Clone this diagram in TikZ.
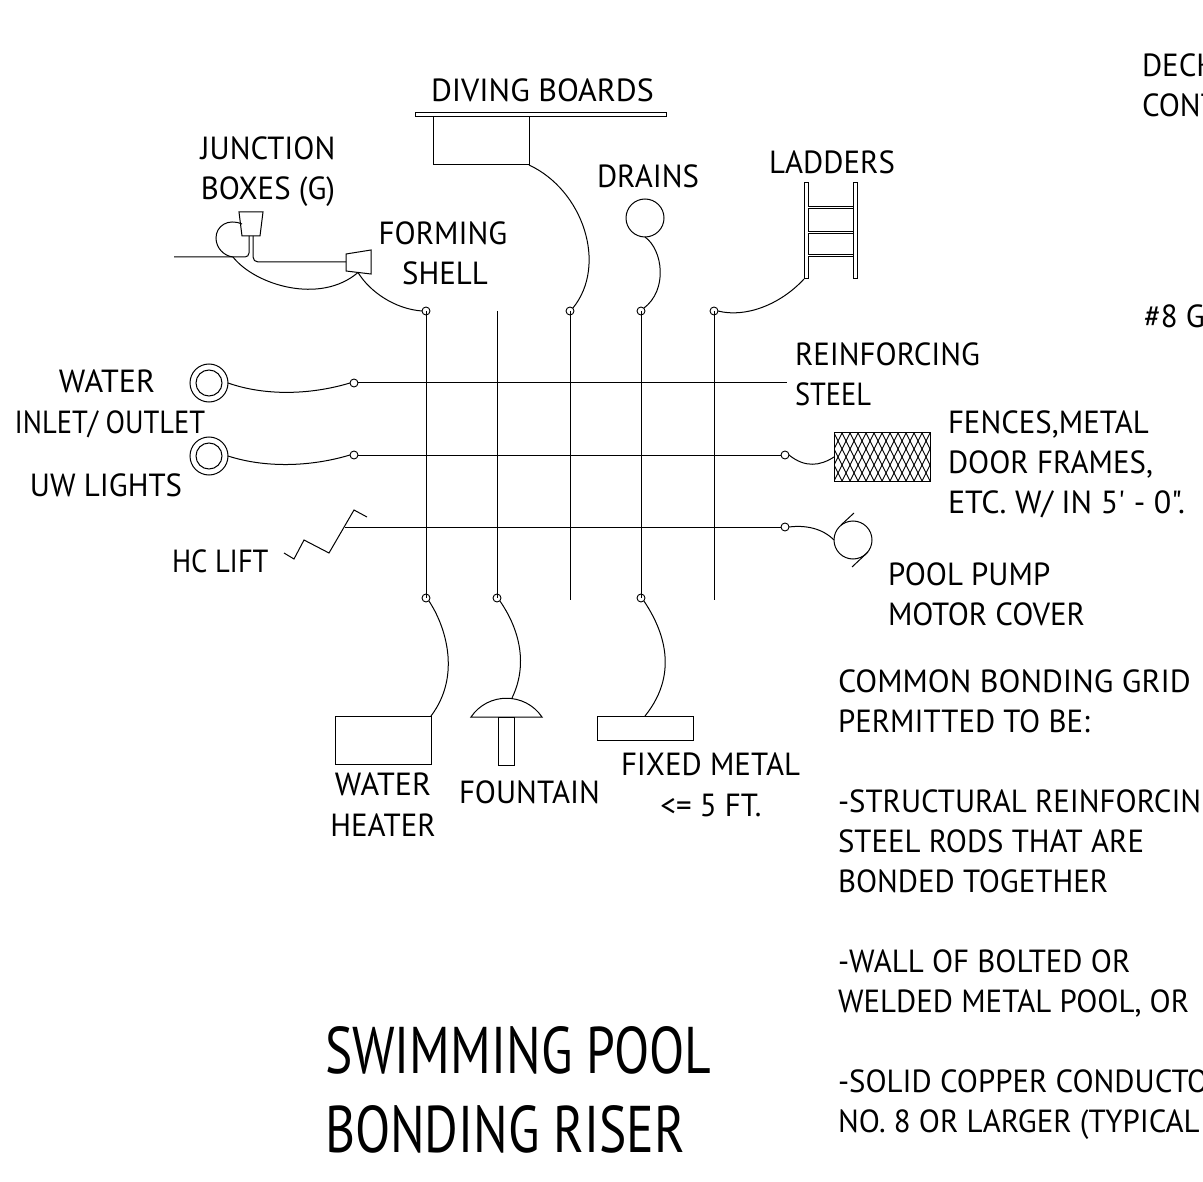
\documentclass[tikz,border=0pt]{standalone}
\usepackage{fontspec}
\newfontfamily\dwg[FakeStretch=0.965]{PT Sans}
\newfontfamily\dwgwide[FakeStretch=1.0]{PT Sans}
\newfontfamily\dwgnarrow[FakeStretch=0.89]{PT Sans}
\newfontfamily\dwgtitle[FakeStretch=0.78]{PT Sans}
\begin{document}
\begin{tikzpicture}[x=1pt,y=-1pt,
  wire/.style={line width=1pt,black},
  shapeline/.style={line width=1pt,black},
  lbl/.style={inner sep=0pt,outer sep=0pt,font=\dwg\fontsize{32}{40}\selectfont,anchor=base west,align=left,text=black},
  lblc/.style={lbl,anchor=base,align=center},
  widetext/.style={font=\dwgwide\fontsize{32}{40}\selectfont},
  narrowtext/.style={font=\dwgnarrow\fontsize{32}{40}\selectfont},
  title/.style={lbl,font=\dwgtitle\fontsize{66}{80}\selectfont},
  tap/.style={circle,draw,line width=0.9pt,minimum size=8pt,inner sep=0pt,outer sep=0pt},
  ring/.style={circle,draw,line width=1pt,inner sep=0pt,outer sep=0pt},
  box/.style={draw,line width=1pt,inner sep=0pt,outer sep=0pt,anchor=north west}]
\useasboundingbox (0,0) rectangle (1203,1182);
\clip (0,0) rectangle (1203,1182);
% --- labels
\node[lbl] (deck) at (1142,77) {DECK};
\node[lbl] (cont) at (1142,117) {CONT};
\node[lbl] (g8) at (1144,328) {\#8 G};
\node[lbl,widetext] (lDiving) at (431,102) {DIVING BOARDS};
\node[lblc] (lJunc1) at (268,160) {JUNCTION};
\node[lblc] (lJunc2) at (268,200) {BOXES (G)};
\node[lblc] (lForm1) at (443,245) {FORMING};
\node[lblc] (lForm2) at (445,285) {SHELL};
\node[lbl] (lDrains) at (597,188) {DRAINS};
\node[lbl] (lLadders) at (769,174) {LADDERS};
\node[lbl] (lRein1) at (795,366) {REINFORCING};
\node[lbl,narrowtext] (lRein2) at (795,406) {STEEL};
\node[lbl] (lFen1) at (948,433) {FENCES,METAL};
\node[lbl] (lFen2) at (948,473) {DOOR FRAMES,};
\node[lbl,widetext] (lFen3) at (948,513) {ETC. W/ IN 5' - 0".};
\node[lblc,widetext] (lWat1) at (107,393) {WATER};
\node[lblc,narrowtext] (lWat2) at (110,433) {INLET/ OUTLET};
\node[lbl] (lUW) at (30,496) {UW LIGHTS};
\node[lbl,narrowtext] (lHC) at (172,572) {HC LIFT};
\node[lbl] (lPump1) at (888,585) {POOL PUMP};
\node[lbl] (lPump2) at (888,625) {MOTOR COVER};
\node[lbl,widetext] (n1) at (838,692) {COMMON BONDING GRID};
\node[lbl] (n2) at (838,732) {PERMITTED TO BE:};
\node[lblc,widetext] (lHeat1) at (383,795) {WATER};
\node[lblc] (lHeat2) at (383,836) {HEATER};
\node[lbl] (lFount) at (459,803) {FOUNTAIN};
\node[lbl] (lFix1) at (621,775) {FIXED METAL};
\node[lblc] (lFix2) at (711,816) {<= 5 FT.};
\node[lbl] (n3) at (838,812) {-STRUCTURAL REINFORCIN};
\node[lbl] (n4) at (838,852) {STEEL RODS THAT ARE};
\node[lbl] (n5) at (838,892) {BONDED TOGETHER};
\node[lbl] (n6) at (838,972) {-WALL OF BOLTED OR};
\node[lbl] (n7) at (838,1012) {WELDED METAL POOL, OR};
\node[lbl] (n8) at (838,1092) {-SOLID COPPER CONDUCTO};
\node[lbl] (n9) at (838,1132) {NO. 8 OR LARGER (TYPICAL};
\node[title] (t1) at (325,1073) {SWIMMING POOL};
\node[title] (t2) at (325,1152) {BONDING RISER};
% --- grid taps
\node[tap] (tT1) at (426,311) {};
\node[tap] (tT3) at (570,311) {};
\node[tap] (tT4) at (641,311) {};
\node[tap] (tT5) at (714,311) {};
\node[tap] (tB1) at (426,598) {};
\node[tap] (tB2) at (497,598) {};
\node[tap] (tB4) at (641,598) {};
\node[tap] (tL1) at (354,383) {};
\node[tap] (tL2) at (354,455) {};
\node[tap] (tR2) at (785,455) {};
\node[tap] (tR3) at (785,527) {};
\coordinate (v2t) at (497,311);
\coordinate (v3b) at (570,600);
\coordinate (v5b) at (714,600);
\coordinate (h1e) at (787,383);
\coordinate (h3w) at (345,527);
% --- grid
\draw[wire] (tT1.center) -- (tB1.center);
\draw[wire] (v2t) -- (tB2.center);
\draw[wire] (tT3.center) -- (v3b);
\draw[wire] (tT4.center) -- (tB4.center);
\draw[wire] (tT5.center) -- (v5b);
\draw[wire] (tL1) -- (h1e);
\draw[wire] (tL2) -- (tR2);
\draw[wire] (h3w) -- (tR3);
% --- diving boards
\node[box,minimum width=251pt,minimum height=4pt] (board) at (415,113) {};
\node[box,minimum width=96pt,minimum height=48pt] (dbox) at (433,117) {};
\draw[wire] (dbox.south east) .. controls (583,190) and (608,265) .. (tT3.north east);
% --- junction boxes
\draw[shapeline] (239,212) coordinate (jbTL) -- (263,212) -- (260,236) coordinate (jbBR) -- (242,236) coordinate (jbBL) -- cycle;
\coordinate (jbA) at (249,236);
\coordinate (jbB) at (253,236);
\coordinate (wireW) at (174,257);
\draw[wire,rounded corners=4pt] (wireW) -- (249,257) -- (jbA);
\draw[shapeline] (346,254) -- (371,250) -- (371,274) -- (346,271) -- cycle;
\coordinate (fsW) at (346,262);
\coordinate (fsS) at (358,272.5);
\coordinate (wireJ) at (233,257);
\coordinate (jbL) at (242,224);
\draw[wire,rounded corners=5pt] (jbB) -- (253,262) -- (fsW);
\draw[wire] (jbL) .. controls (228,218) and (216,226) .. (216,238) .. controls (216,248) and (224,256) .. (wireJ);
\draw[wire] (wireJ) .. controls (255,285) and (320,305) .. (fsS);
\draw[wire] (fsS) .. controls (370,292) and (395,309) .. (tT1.west);
% --- drains
\node[ring,minimum size=38pt] (drain) at (645,218) {};
\draw[wire] (drain.south) .. controls (663,250) and (668,290) .. (tT4.north east);
% --- ladders
\node[box,minimum width=4pt,minimum height=96pt] (railL) at (804,183) {};
\node[box,minimum width=4pt,minimum height=96pt] (railR) at (853,183) {};
\foreach \y in {206,231,254}{\draw[shapeline,double distance=1.6pt,line width=0.8pt] (808,\y+1.5) -- (853,\y+1.5);}
\draw[wire] (railL.south west) .. controls (780,305) and (745,318) .. (tT5.east);
% --- water inlet, lights
\node[ring,minimum size=38pt] (wo) at (209,383) {};
\node[ring,minimum size=26pt] at (209,383) {};
\node[ring,minimum size=38pt] (uw) at (209,456) {};
\node[ring,minimum size=26pt] at (209,456) {};
\draw[wire] (wo.east) .. controls (265,396) and (310,395) .. (tL1.west);
\draw[wire] (uw.east) .. controls (265,468) and (310,467) .. (tL2.west);
% --- HC lift
\draw[wire] (284,553) -- (294,559) -- (304,540) -- (329,553) -- (354,510) -- (367,517);
% --- fence
\node[box,minimum width=96pt,minimum height=48pt] (fence) at (834,433) {};
\begin{scope}
\clip (834,433) rectangle (930,481);
\foreach \i in {-8,...,14}{
  \draw[line width=0.9pt] (834+\i*8,433) -- ++(24,48);
  \draw[line width=0.9pt] (834+\i*8,433) -- ++(-24,48);
}
\end{scope}
\draw[wire] (tR2.east) .. controls (805,468) and (820,466) .. (fence.west);
% --- pump
\node[ring,minimum size=38pt] (pump) at (853,540) {};
\coordinate (pa) at (841,525); \coordinate (pb) at (854,513);
\coordinate (pc) at (852,567); \coordinate (pd) at (868,552);
\draw[wire] (pa) -- (pb);
\draw[wire] (pc) -- (pd);
\draw[wire] (tR3.east) .. controls (805,525) and (822,528) .. (pump.west);
% --- bottom equipment
\node[box,minimum width=96pt,minimum height=48pt] (heater) at (335,716) {};
\draw[wire] (tB1.south east) .. controls (445,625) and (462,675) .. (heater.north east);
\draw[shapeline] (471,717) coordinate (domeW) .. controls (488,692) and (525,692) .. (542,717) coordinate (domeE) -- cycle;
\coordinate (domeT) at (512,698);
\node[box,minimum width=16.5pt,minimum height=48pt] (stem) at (498,717) {};
\draw[wire] (tB2.south east) .. controls (520,630) and (528,665) .. (domeT);
\node[box,minimum width=96pt,minimum height=24pt] (fixed) at (597,716) {};
\draw[wire] (tB4.south east) .. controls (660,625) and (682,670) .. (fixed.north);
\end{tikzpicture}
\end{document}
